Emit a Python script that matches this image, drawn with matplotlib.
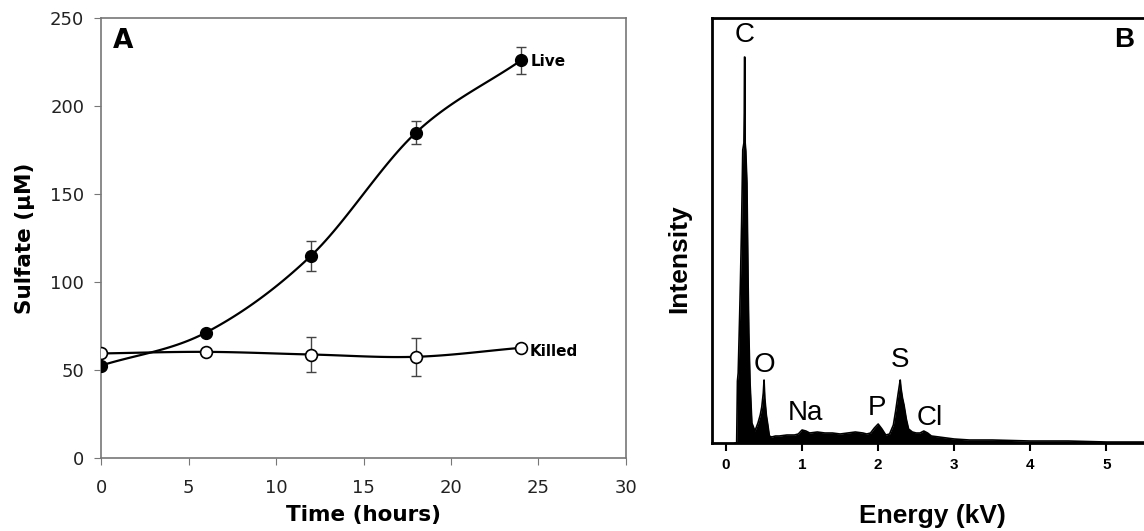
import numpy as np
import matplotlib
matplotlib.use('Agg')
import matplotlib.pyplot as plt

# Panel A: sulfate release over time
hours = [0, 6, 12, 18, 24]
live = [52.5, 71.3, 114.9, 184.9, 225.9]
live_err = [0.0, 0.0, 8.6, 6.5, 7.8]
killed = [59.4, 60.3, 58.8, 57.5, 62.6]
killed_err = [0.0, 0.0, 10.0, 10.7, 0.0]

# Panel B: EDS spectrum (energy in kV, intensity in arbitrary units)
energy = [0.12, 0.14, 0.15, 0.16, 0.18, 0.19, 0.205, 0.22, 0.235, 0.240,
          0.243, 0.247, 0.252, 0.26, 0.275, 0.29, 0.30, 0.316, 0.34, 0.38,
          0.42, 0.45, 0.47, 0.49, 0.50, 0.51, 0.53, 0.55, 0.57, 0.60,
          0.65, 0.70, 0.80, 0.90, 0.95, 1.00, 1.05, 1.10, 1.20, 1.30,
          1.40, 1.50, 1.60, 1.70, 1.80, 1.85, 1.90, 1.95, 2.00, 2.05,
          2.10, 2.15, 2.20, 2.23, 2.26, 2.28, 2.29, 2.30, 2.32, 2.34,
          2.37, 2.40, 2.45, 2.50, 2.55, 2.60, 2.65, 2.70, 2.80, 2.90,
          3.00, 3.20, 3.50, 4.00, 4.50, 5.00, 5.60]
intensity = [0, 0, 62, 70, 130, 163, 220, 293, 300, 330,
             386, 386, 300, 292, 260, 163, 110, 60, 20, 12,
             20, 28, 36, 50, 63, 45, 28, 18, 7, 6,
             7, 7, 8, 8, 9, 13, 12, 10, 11, 10,
             10, 9, 10, 11, 10, 9, 10, 15, 19, 14,
             8, 9, 18, 32, 48, 58, 63, 55, 45, 38,
             24, 14, 11, 10, 10, 12, 10, 7, 6, 5,
             4, 3, 3, 2, 2, 1, 1]
peak_labels = ['C', 'O', 'Na', 'P', 'S', 'Cl']
peak_pos = [(0.25, 408), (0.50, 78), (1.04, 30), (1.99, 35), (2.29, 83), (2.68, 25)]


def smooth(x, y, n=30):
    # Catmull-Rom curve through the points, like a spreadsheet "smoothed line"
    x = np.asarray(x, float)
    y = np.asarray(y, float)
    px = np.concatenate([[2 * x[0] - x[1]], x, [2 * x[-1] - x[-2]]])
    py = np.concatenate([[2 * y[0] - y[1]], y, [2 * y[-1] - y[-2]]])
    t = np.linspace(0, 1, n)
    xs, ys = [], []
    for i in range(1, len(px) - 2):
        for p, out in ((px, xs), (py, ys)):
            p0, p1, p2, p3 = p[i - 1], p[i], p[i + 1], p[i + 2]
            out.extend(0.5 * (2 * p1 + (-p0 + p2) * t
                              + (2 * p0 - 5 * p1 + 4 * p2 - p3) * t ** 2
                              + (-p0 + 3 * p1 - 3 * p2 + p3) * t ** 3))
    return xs, ys


fig = plt.figure(figsize=(11.44, 5.31), dpi=100)

# ---- panel A ----
ax = fig.add_axes([0.0883, 0.1375, 0.4589, 0.8286])
gray = '#777777'
for sp in ax.spines.values():
    sp.set_color(gray)
    sp.set_linewidth(1.2)

ax.plot(*smooth(hours, killed), color='black', lw=1.6, zorder=2)
ax.plot(*smooth(hours, live), color='black', lw=1.6, zorder=2)
ax.errorbar(hours, killed, yerr=killed_err, fmt='none', ecolor='#444444',
            elinewidth=1, capsize=3.5, zorder=3)
ax.errorbar(hours, live, yerr=live_err, fmt='none', ecolor='#444444',
            elinewidth=1, capsize=3.5, zorder=3)
ax.plot(hours, killed, 'o', ms=8.5, mfc='white', mec='black', mew=1.2, zorder=4)
ax.plot(hours, live, 'o', ms=8.5, mfc='black', mec='black', zorder=4)

ax.set_xlim(0, 30)
ax.set_ylim(0, 250)
ax.set_xticks(range(0, 31, 5))
ax.set_yticks(range(0, 251, 50))
ax.tick_params(direction='out', length=5, color=gray, labelsize=13,
               labelcolor='#222222')
ax.tick_params(axis='x', pad=10)
ax.tick_params(axis='y', pad=7)
ax.set_xlabel('Time (hours)', fontsize=15.5, fontweight='bold', labelpad=6)
ax.set_ylabel('Sulfate (µM)', fontsize=15.5, fontweight='bold', labelpad=11)
ax.text(1.26, 237, 'A', fontsize=19, fontweight='bold', ha='center', va='center')
ax.text(24.55, 225, 'Live', fontsize=11, fontweight='bold', va='center')
ax.text(24.5, 60.5, 'Killed', fontsize=11, fontweight='bold', va='center')

# ---- panel B ----
hfont = 'Liberation Sans'
bx = fig.add_axes([0.6224, 0.1657, 0.3846, 0.8003])
for sp in bx.spines.values():
    sp.set_color('black')
    sp.set_linewidth(2)
bx.fill_between(energy, intensity, color='black', lw=0)
bx.plot(energy, intensity, color='black', lw=1.2)
bx.set_xlim(-0.184, 5.6)
bx.set_ylim(0, 425)
bx.set_yticks([])
bx.set_xticks(range(0, 6))
bx.tick_params(axis='x', direction='out', length=6, width=1.5, pad=5)
for lab in bx.get_xticklabels():
    lab.set_fontfamily(hfont)
    lab.set_fontweight('bold')
    lab.set_fontsize(11)
bx.set_xlabel('Energy (kV)', family=hfont, fontsize=19, fontweight='bold',
              labelpad=23)
bx.set_ylabel('Intensity', family=hfont, fontsize=19, fontweight='bold')
bx.yaxis.set_label_coords(-0.048, 0.433)
for name, (ex, ey) in zip(peak_labels, peak_pos):
    bx.text(ex, ey, name, family=hfont, fontsize=20, ha='center', va='center')
bx.text(5.23, 403, 'B', family=hfont, fontsize=20, fontweight='bold',
        ha='center', va='center')

fig.savefig('out.png', dpi=100)
